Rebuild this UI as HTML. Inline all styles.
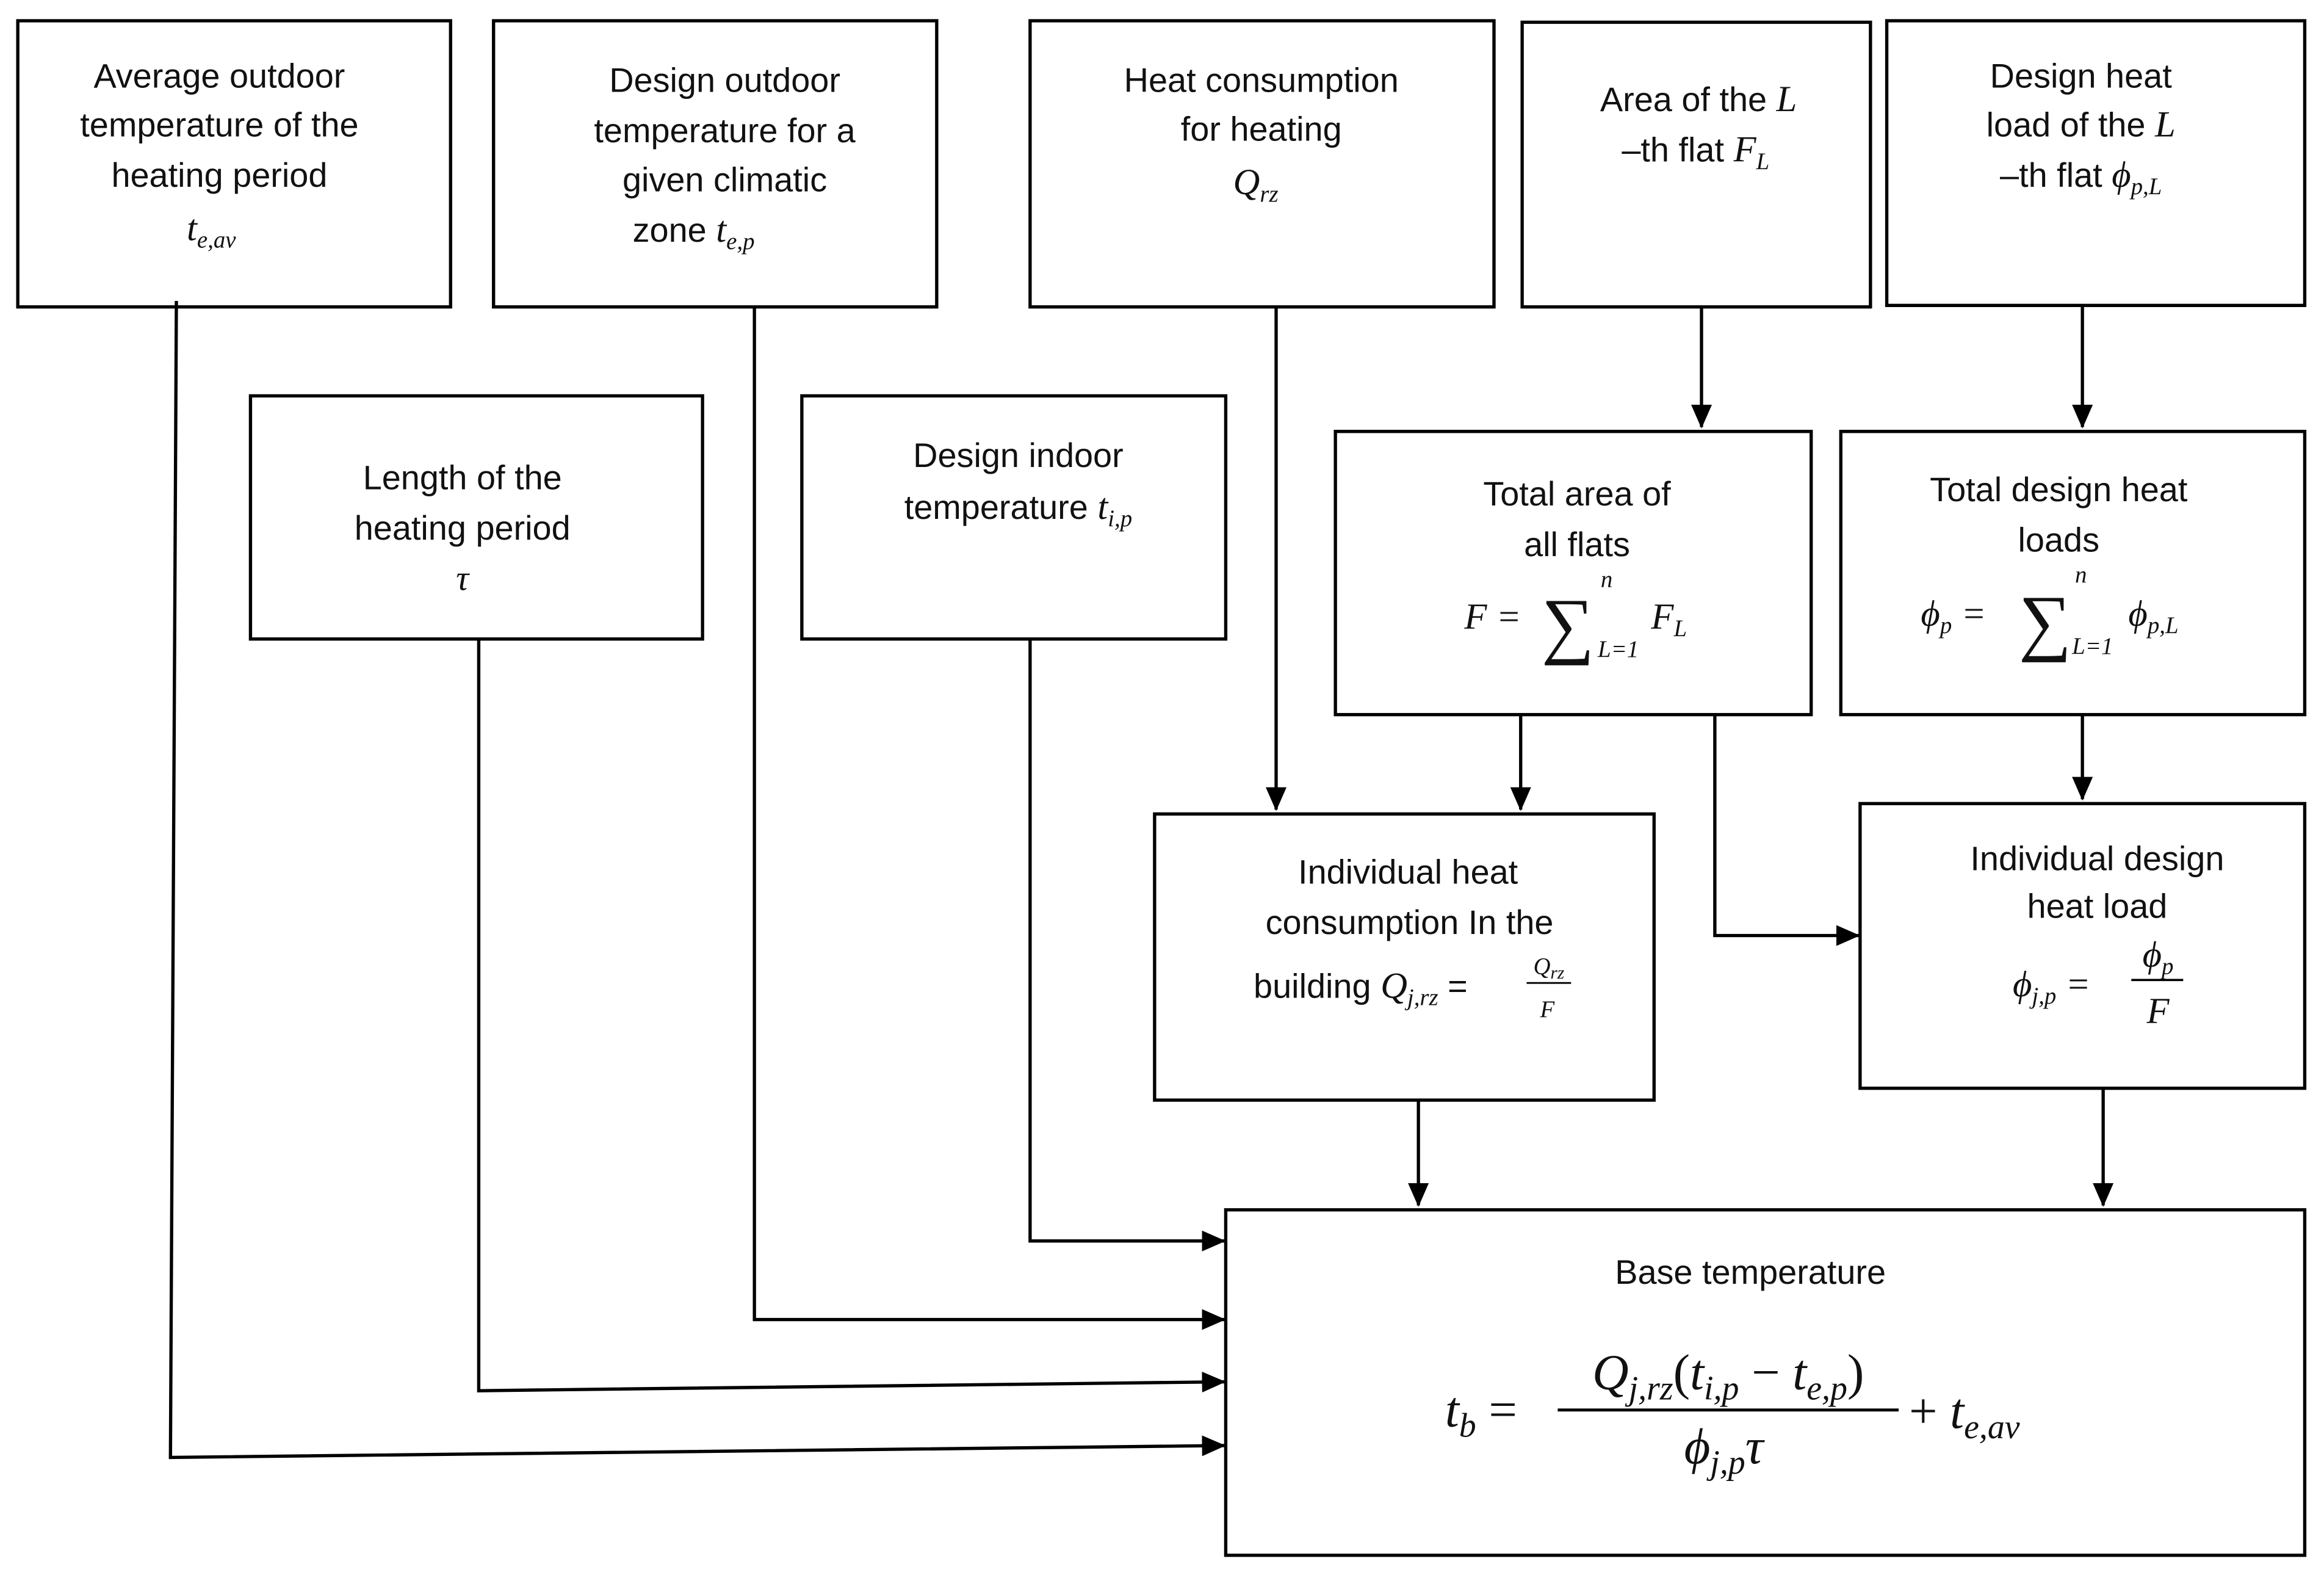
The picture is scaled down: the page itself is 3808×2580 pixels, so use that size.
<!DOCTYPE html>
<html><head><meta charset="utf-8"><style>
html,body{margin:0;padding:0;background:#fff;}
svg{display:block;}
.t{font-family:"Liberation Sans",sans-serif;font-size:23px;fill:#111;text-anchor:middle;}
.m{font-family:"Liberation Serif",serif;font-style:italic;fill:#111;}
.s{font-size:16px;}
</style></head><body>
<svg width="3808" height="2580" viewBox="0 0 1568 1062.3" preserveAspectRatio="none" xmlns="http://www.w3.org/2000/svg">
<defs><marker id="a" markerWidth="16" markerHeight="14" refX="15" refY="7" orient="auto" markerUnits="userSpaceOnUse" viewBox="0 0 16 14"><path d="M0,0 L16,7 L0,14 z" fill="#000"/></marker></defs>
<rect width="1568" height="1062.3" fill="#fff"/>
<g fill="none" stroke="#000" stroke-width="2.2">
<rect x="12" y="14" width="292" height="193"/>
<rect x="333" y="14" width="299" height="193"/>
<rect x="695" y="14" width="313" height="193"/>
<rect x="1027" y="15" width="235" height="192"/>
<rect x="1273" y="14" width="282" height="192"/>
<rect x="169" y="267" width="305" height="164"/>
<rect x="541" y="267" width="286" height="164"/>
<rect x="901" y="291" width="321" height="191"/>
<rect x="1242" y="291" width="313" height="191"/>
<rect x="779" y="549" width="337" height="193"/>
<rect x="1255" y="542" width="300" height="192"/>
<rect x="827" y="816" width="728" height="233"/>
</g>
<g fill="none" stroke="#000" stroke-width="2.2" marker-end="url(#a)">
<line x1="1148" y1="207" x2="1148" y2="288"/>
<line x1="1405" y1="206" x2="1405" y2="288"/>
<line x1="861" y1="207" x2="861" y2="546"/>
<line x1="1026" y1="482" x2="1026" y2="546"/>
<polyline points="1157,482 1157,631 1254,631"/>
<line x1="1405" y1="482" x2="1405" y2="539"/>
<line x1="957" y1="742" x2="957" y2="813"/>
<line x1="1419" y1="734" x2="1419" y2="813"/>
<polyline points="695,431 695,837 826,837"/>
<polyline points="509,207 509,890 826,890"/>
<polyline points="323,431 323,938 826,932"/>
<polyline points="119,203 115,983 826,975"/>
</g>
<text class="t" x="148" y="59">Average outdoor</text>
<text class="t" x="148" y="92">temperature of the</text>
<text class="t" x="148" y="126">heating period</text>
<text class="m" x="126" y="162" font-size="25">t<tspan class="s" dy="5">e,av</tspan></text>
<text class="t" x="489" y="62">Design outdoor</text>
<text class="t" x="489" y="96">temperature for a</text>
<text class="t" x="489" y="129">given climatic</text>
<text class="t" x="468" y="163">zone <tspan class="m" font-size="25">t</tspan><tspan class="m s" dy="5">e,p</tspan></text>
<text class="t" x="851" y="62">Heat consumption</text>
<text class="t" x="851" y="95">for heating</text>
<text class="m" x="832" y="131" font-size="25">Q<tspan class="s" dy="5">rz</tspan></text>
<text class="t" x="1146" y="75">Area of the <tspan class="m" font-size="25">L</tspan></text>
<text class="t" x="1144" y="109">–th flat  <tspan class="m" font-size="25">F</tspan><tspan class="m s" dy="5">L</tspan></text>
<text class="t" x="1404" y="59">Design heat</text>
<text class="t" x="1404" y="92">load of the <tspan class="m" font-size="25">L</tspan></text>
<text class="t" x="1404" y="126">–th flat <tspan class="m" font-size="25">ϕ</tspan><tspan class="m s" dy="5">p,L</tspan></text>
<text class="t" x="312" y="330">Length of the</text>
<text class="t" x="312" y="364">heating period</text>
<text class="m" x="312" y="398" font-size="24" text-anchor="middle">τ</text>
<text class="t" x="687" y="315">Design indoor</text>
<text class="t" x="687" y="350">temperature <tspan class="m" font-size="25">t</tspan><tspan class="m s" dy="5">i,p</tspan></text>
<text class="t" x="1064" y="341">Total area of</text>
<text class="t" x="1064" y="375">all flats</text>
<text class="m" x="988" y="424" font-size="25">F  = </text>
<text class="m" x="1040" y="438" font-size="50" font-style="normal">∑</text>
<text class="m s" x="1080" y="396">n</text>
<text class="m s" x="1078" y="443">L=1</text>
<text class="m" x="1114" y="424" font-size="25">F<tspan class="s" dy="5">L</tspan></text>
<text class="t" x="1389" y="338">Total design heat</text>
<text class="t" x="1389" y="372">loads</text>
<text class="m" x="1296" y="422" font-size="25">ϕ<tspan class="s" dy="5">p</tspan><tspan dy="-5"> = </tspan></text>
<text class="m" x="1362" y="436" font-size="50" font-style="normal">∑</text>
<text class="m s" x="1400" y="393">n</text>
<text class="m s" x="1398" y="441">L=1</text>
<text class="m" x="1436" y="422" font-size="25">ϕ<tspan class="s" dy="5">p,L</tspan></text>
<text class="t" x="950" y="596">Individual heat</text>
<text class="t" x="951" y="630">consumption In the</text>
<text class="t" x="918" y="673">building <tspan class="m" font-size="25">Q</tspan><tspan class="m s" dy="5">j,rz</tspan><tspan dy="-5"> =</tspan></text>
<text class="m" x="1045" y="657" font-size="16" text-anchor="middle">Q<tspan font-size="12" dy="3">rz</tspan></text>
<line x1="1030" y1="663" x2="1060" y2="663" stroke="#000" stroke-width="1.2"/>
<text class="m" x="1044" y="686" font-size="16" text-anchor="middle">F</text>
<text class="t" x="1415" y="587">Individual design</text>
<text class="t" x="1415" y="619">heat load</text>
<text class="m" x="1358" y="672" font-size="25">ϕ<tspan class="s" dy="5">j,p</tspan><tspan dy="-5"> = </tspan></text>
<text class="m" x="1456" y="652" font-size="25" text-anchor="middle">ϕ<tspan class="s" dy="5">p</tspan></text>
<line x1="1438" y1="661" x2="1473" y2="661" stroke="#000" stroke-width="1.5"/>
<text class="m" x="1456" y="690" font-size="25" text-anchor="middle">F</text>
<text class="t" x="1181" y="866">Base temperature</text>
<text class="m" x="975" y="962" font-size="34">t<tspan font-size="23" dy="7">b</tspan><tspan dy="-7" font-style="normal"> = </tspan></text>
<text class="m" x="1166" y="937" font-size="34" text-anchor="middle">Q<tspan font-size="23" dy="7">j,rz</tspan><tspan dy="-7" font-style="normal">(</tspan>t<tspan font-size="23" dy="7">i,p</tspan><tspan dy="-7" font-style="normal"> − </tspan>t<tspan font-size="23" dy="7">e,p</tspan><tspan dy="-7" font-style="normal">)</tspan></text>
<line x1="1051" y1="951" x2="1281" y2="951" stroke="#000" stroke-width="2"/>
<text class="m" x="1163" y="987" font-size="34" text-anchor="middle">ϕ<tspan font-size="23" dy="7">j,p</tspan><tspan dy="-7">τ</tspan></text>
<text class="m" x="1288" y="963" font-size="34"><tspan font-style="normal">+ </tspan>t<tspan font-size="23" dy="7">e,av</tspan></text>
</svg>
</body></html>
